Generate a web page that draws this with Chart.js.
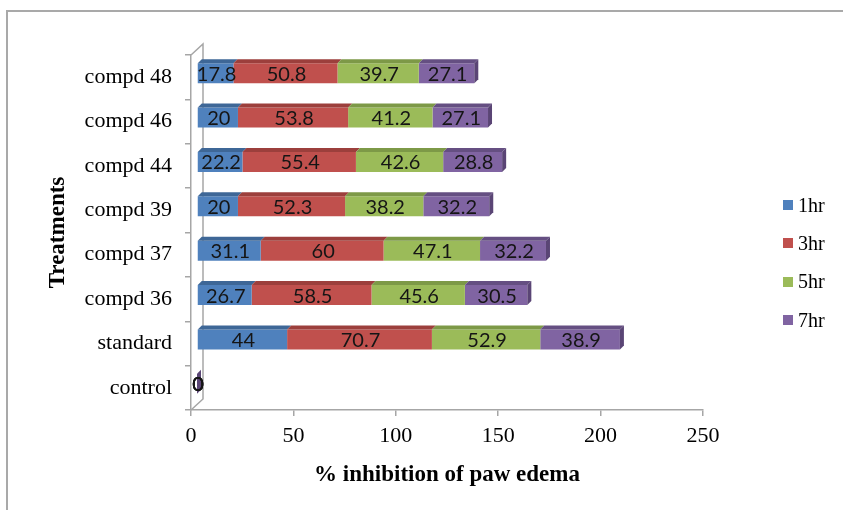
<!DOCTYPE html>
<html>
<head>
<meta charset="utf-8">
<script src="https://cdn.jsdelivr.net/npm/chart.js@4.4.0/dist/chart.umd.min.js"></script>
<style>
  html, body { margin: 0; padding: 0; background: #fff; }
  #wrap { position: relative; width: 843px; height: 510px; overflow: hidden; }
  #frame { position: absolute; left: 6px; top: 10px; width: 900px; height: 600px; border: 2px solid #a9a9a9; }
  #chart { position: absolute; left: 0; top: 0; }
  #legend { position: absolute; left: 783px; top: 186px; font-family: "Liberation Serif", serif; font-size: 20px; color: #000; }
  #legend div { height: 38.3px; display: flex; align-items: center; }
  #legend span.sw { display: inline-block; width: 10px; height: 10px; margin-right: 5px; }
</style>
</head>
<body>
<div id="wrap">
  <div id="frame"></div>
  <canvas id="chart" width="843" height="510"></canvas>
  <div id="legend"></div>
</div>
<script>
(function () {
'use strict';
// top to bottom, as in the figure
const treatments = ['compd 48', 'compd 46', 'compd 44', 'compd 39', 'compd 37', 'compd 36', 'standard', 'control'];
const hr1 = [17.8, 20, 22.2, 20, 31.1, 26.7, 44, 0];
const hr3 = [50.8, 53.8, 55.4, 52.3, 60, 58.5, 70.7, 0];
const hr5 = [39.7, 41.2, 42.6, 38.2, 47.1, 45.6, 52.9, 0];
const hr7 = [27.1, 27.1, 28.8, 32.2, 32.2, 30.5, 38.9, 0];
const seriesNames = ['1hr', '3hr', '5hr', '7hr'];
const colors = ['#4F81BD', '#C0504D', '#9BBB59', '#8064A2'];
const tops = ['#3E6797', '#9C3F3C', '#7D9947', '#654F82'];
const xTicks = [0, 50, 100, 150, 200, 250];

const AXIS = '#a6a6a6';
const SERIF = '"Liberation Serif", "Times New Roman", serif';
const OX = 6, OY = -4;     // bars sit a bit behind the front wall edge
const DX = 4, DY = 4;      // bar depth
const WX = 12, WY = 11;    // wall depth

// 3d look: wall, bar top/side faces, value labels
const bar3d = {
    id: 'bar3d',
    beforeDatasetsDraw(chart) {
        const { ctx, chartArea: a } = chart;
        ctx.save();
        ctx.strokeStyle = AXIS;
        ctx.lineWidth = 1.5;
        ctx.beginPath();
        ctx.moveTo(a.left, a.top);
        ctx.lineTo(a.left + WX, a.top - WY);
        ctx.lineTo(a.left + WX, a.bottom - WY);
        ctx.lineTo(a.left, a.bottom);
        ctx.stroke();
        ctx.restore();
        ctx.save();
        ctx.translate(OX, OY);
    },
    afterDatasetsDraw(chart) {
        const ctx = chart.ctx;
        const n = chart.data.datasets.length;
        chart.data.datasets.forEach((ds, i) => {
            chart.getDatasetMeta(i).data.forEach((el) => {
                const p = el.getProps(['x', 'y', 'base', 'height'], true);
                const t = p.y - p.height / 2, b = p.y + p.height / 2;
                ctx.fillStyle = tops[i];
                ctx.beginPath();
                ctx.moveTo(p.base, t);
                ctx.lineTo(p.base + DX, t - DY);
                ctx.lineTo(p.x + DX, t - DY);
                ctx.lineTo(p.x, t);
                ctx.closePath();
                ctx.fill();
                if (i === n - 1) {
                    ctx.fillStyle = '#5A4575';
                    ctx.beginPath();
                    ctx.moveTo(p.x, t);
                    ctx.lineTo(p.x + DX, t - DY);
                    ctx.lineTo(p.x + DX, b - DY);
                    ctx.lineTo(p.x, b);
                    ctx.closePath();
                    ctx.fill();
                }
            });
        });
        ctx.font = '20px Lato, "Open Sans", sans-serif';
        ctx.fillStyle = '#151515';
        ctx.textAlign = 'center';
        ctx.textBaseline = 'middle';
        chart.data.datasets.forEach((ds, i) => {
            chart.getDatasetMeta(i).data.forEach((el, j) => {
                const p = el.getProps(['x', 'y', 'base'], true);
                ctx.fillText(String(ds.data[j]), (p.x + p.base) / 2 + 1, p.y + 1);
            });
        });
        ctx.restore();
    }
};

function build() {
    const ctx = document.getElementById('chart').getContext('2d');
    const data = [hr1, hr3, hr5, hr7];
    return new Chart(ctx, {
        type: 'bar',
        data: {
            labels: treatments,
            datasets: data.map((d, i) => ({
                label: seriesNames[i], data: d, backgroundColor: colors[i],
                borderWidth: 0, categoryPercentage: 0.9, barPercentage: 0.5
            }))
        },
        options: {
            indexAxis: 'y', responsive: false, animation: false,
            layout: { padding: { left: 40, top: 55, right: 140, bottom: 17 } },
            plugins: { legend: { display: false }, tooltip: { enabled: false } },
            scales: {
                x: {
                    stacked: true, min: 0, max: 250,
                    afterBuildTicks: (s) => { s.ticks = xTicks.map(v => ({ value: v })); },
                    afterFit: (s) => { s.height = 83; },
                    border: { color: AXIS, width: 1.5 },
                    grid: { drawOnChartArea: false, color: AXIS, tickLength: 6, lineWidth: 1.5 },
                    ticks: { color: '#000', padding: 7, font: { family: SERIF, size: 22 } },
                    title: { display: true, text: '% inhibition of paw edema', color: '#000',
                             padding: { top: 4, bottom: 4 }, font: { family: SERIF, size: 23, weight: 'bold' } }
                },
                y: {
                    stacked: true,
                    afterFit: (s) => { s.width = 191 - 40; },
                    border: { color: AXIS, width: 1.5 },
                    grid: { drawOnChartArea: false, color: AXIS, tickLength: 6, lineWidth: 1.5, offset: true },
                    ticks: { color: '#000', padding: 13, font: { family: SERIF, size: 22 } },
                    title: { display: true, text: 'Treatments', color: '#000',
                             padding: { top: 4, bottom: 4 }, font: { family: SERIF, size: 23, weight: 'bold' } }
                }
            }
        },
        plugins: [bar3d]
    });
}

function legend(chart) {
    const box = document.getElementById('legend');
    chart.data.datasets.forEach((ds) => {
        const row = document.createElement('div');
        const sw = document.createElement('span');
        sw.className = 'sw';
        sw.style.background = ds.backgroundColor;
        row.appendChild(sw);
        row.appendChild(document.createTextNode(ds.label));
        box.appendChild(row);
    });
}

function init() { const c = build(); legend(c); }
if (document.readyState === 'loading') document.addEventListener('DOMContentLoaded', init); else init();
})();
</script>
</body>
</html>
